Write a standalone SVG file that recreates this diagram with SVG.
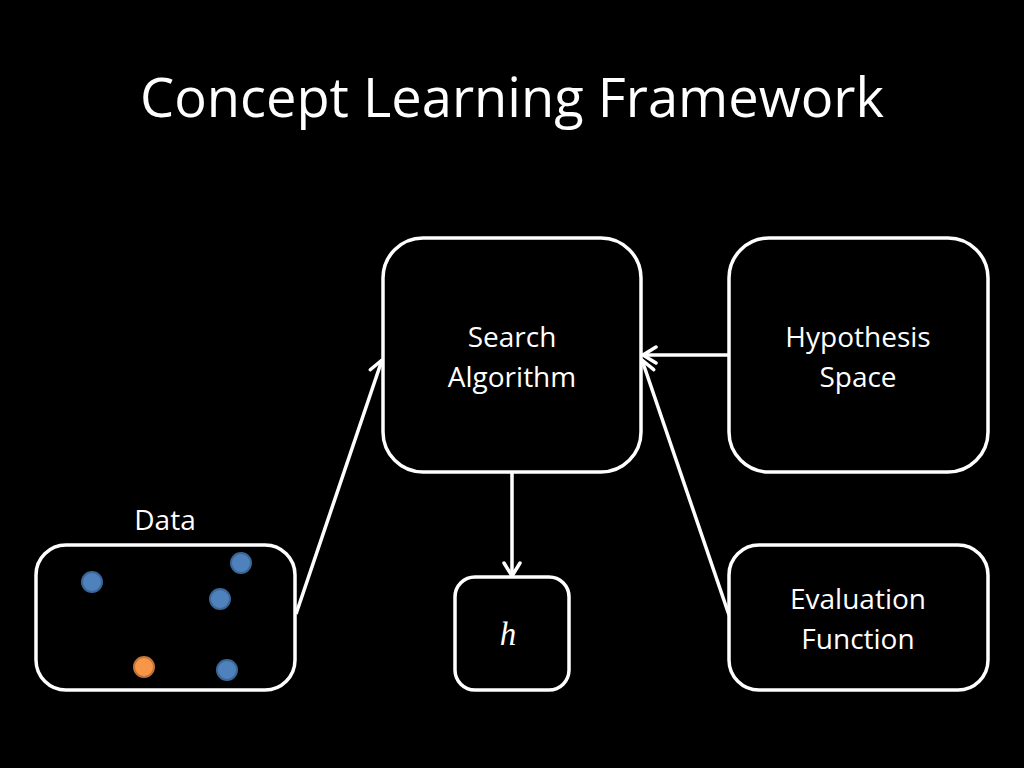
<svg xmlns="http://www.w3.org/2000/svg" width="1024" height="768" viewBox="0 0 1024 768">
<style>
.box{fill:#000;stroke:#fff;stroke-width:3.5}
.lbl{font-family:"Open Sans","Liberation Sans",sans-serif;font-size:28px;fill:#fff;text-anchor:middle}
.title{font-family:"Open Sans","Liberation Sans",sans-serif;font-size:54px;fill:#fff;text-anchor:middle}
.conn{stroke:#fff;stroke-width:3.5;fill:none}
.blue{fill:#4F81BD;stroke:#3B6796;stroke-width:2}
.orange{fill:#F79646;stroke:#C0743A;stroke-width:2}
</style>
<defs>
<marker id="arr" viewBox="0 0 20 20" refX="17" refY="10" markerWidth="20" markerHeight="20" markerUnits="userSpaceOnUse" orient="auto">
<path d="M4,2 L17,10 L4,18" fill="none" stroke="#fff" stroke-width="3.5" stroke-linecap="round" stroke-linejoin="round"/>
</marker>
</defs>
<rect width="1024" height="768" fill="#000"/>
<text class="title" x="512" y="117" textLength="744" lengthAdjust="spacingAndGlyphs">Concept Learning Framework</text>
<g id="connectors">
<line class="conn" x1="296" y1="614" x2="382" y2="360" marker-end="url(#arr)"/>
<line class="conn" x1="729" y1="355" x2="643" y2="355" marker-end="url(#arr)"/>
<line class="conn" x1="729" y1="615" x2="642" y2="360" marker-end="url(#arr)"/>
<line class="conn" x1="512" y1="472" x2="512" y2="576" marker-end="url(#arr)"/>
</g>
<g id="search">
<rect class="box" x="383" y="238" width="258" height="234" rx="40"/>
<text class="lbl" x="512" y="347">Search</text>
<text class="lbl" x="512" y="387">Algorithm</text>
</g>
<g id="hypothesis">
<rect class="box" x="729" y="238" width="259" height="234" rx="40"/>
<text class="lbl" x="858" y="347">Hypothesis</text>
<text class="lbl" x="858" y="387">Space</text>
</g>
<g id="data">
<text class="lbl" x="165" y="530">Data</text>
<rect class="box" x="36" y="545" width="259" height="145" rx="30"/>
<circle class="blue" cx="92" cy="582" r="10"/>
<circle class="blue" cx="241" cy="563" r="10"/>
<circle class="blue" cx="220" cy="599" r="10"/>
<circle class="blue" cx="227" cy="670" r="10"/>
<circle class="orange" cx="144" cy="667" r="10"/>
</g>
<g id="h">
<rect class="box" x="455" y="577" width="114" height="113" rx="20"/>
<text x="508" y="645" font-family="Liberation Serif,serif" font-style="italic" font-size="33" fill="#fff" text-anchor="middle">h</text>
</g>
<g id="evaluation">
<rect class="box" x="729" y="545" width="259" height="145" rx="30"/>
<text class="lbl" x="858" y="609">Evaluation</text>
<text class="lbl" x="858" y="649">Function</text>
</g>
</svg>
